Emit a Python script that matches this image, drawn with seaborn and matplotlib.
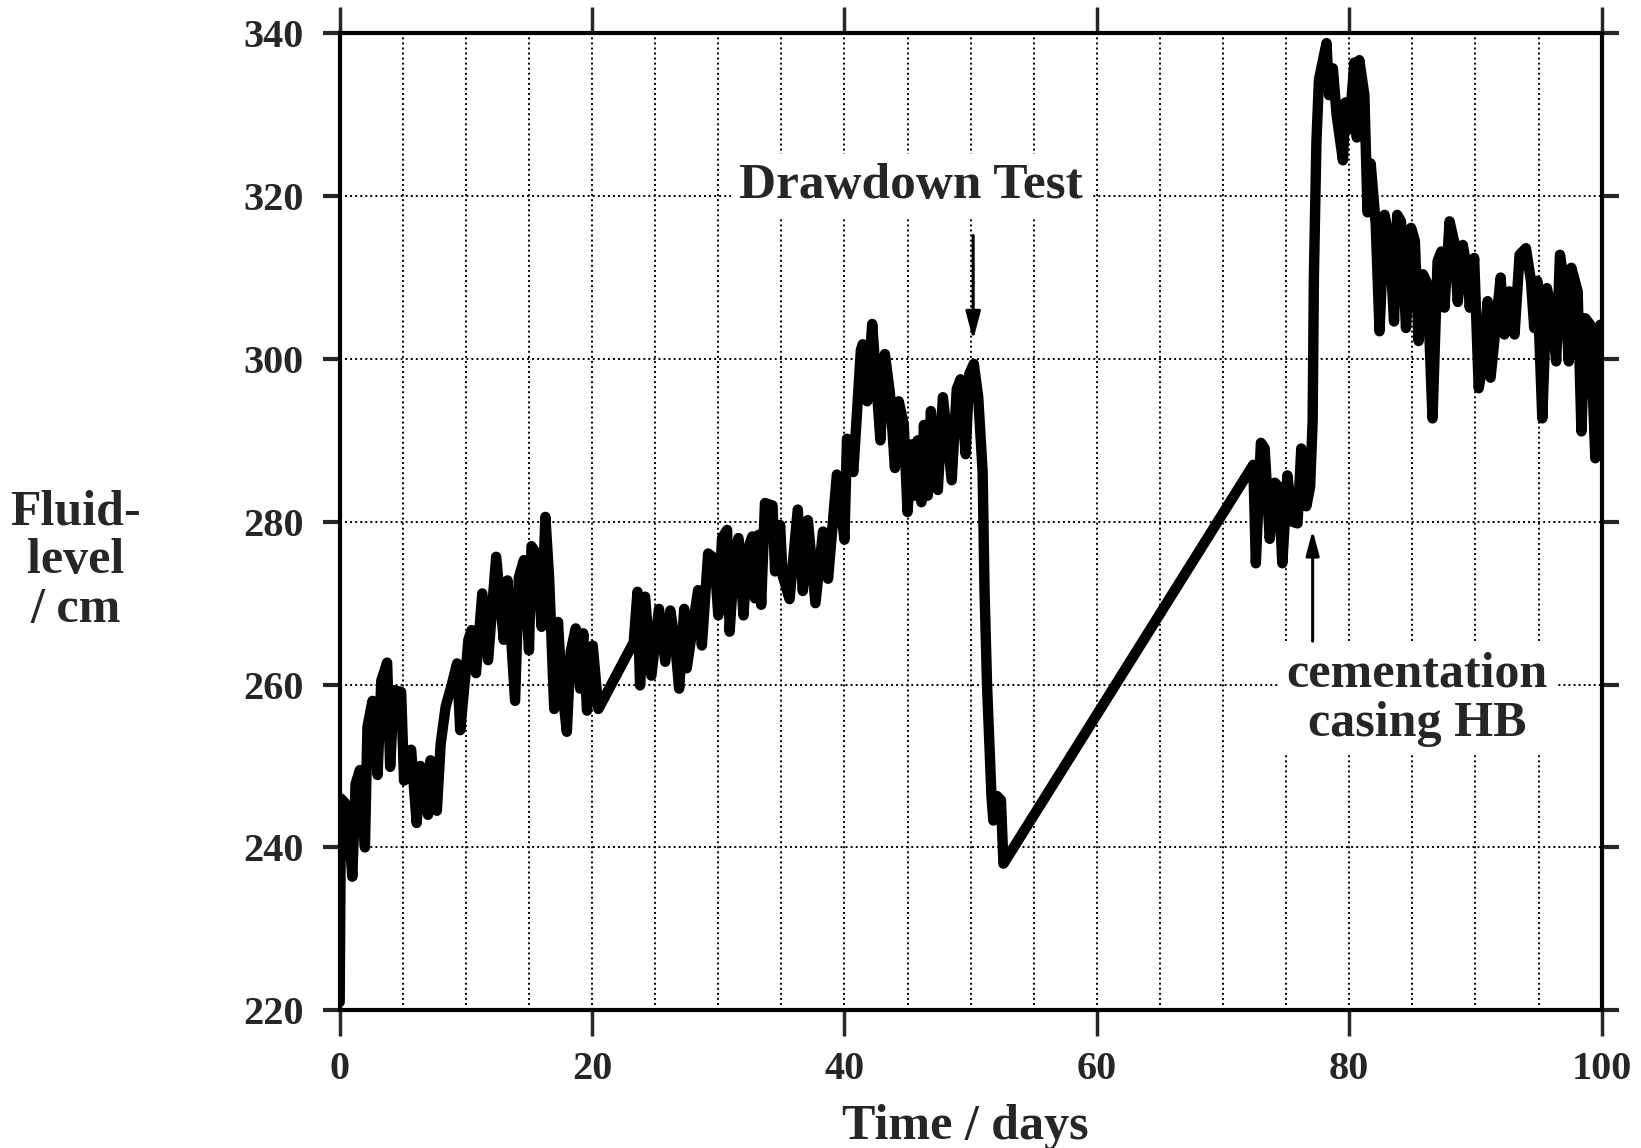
import matplotlib
matplotlib.use('Agg')
import matplotlib.pyplot as plt
import numpy as np
import pandas as pd
import seaborn as sns
from matplotlib.ticker import MultipleLocator

# data (time in days, fluid level in cm)
days = [0.0, 0.1, 0.4, 0.66, 1.0, 1.26, 1.6, 2.0, 2.2, 2.6, 3.0, 3.3, 3.76, 4.0,
        4.3, 4.87, 5.1, 5.66, 6.1, 6.4, 7.0, 7.2, 7.7, 8.0, 8.4, 8.9, 9.3, 9.55,
        10.0, 10.2, 10.45, 10.8, 11.3, 11.76, 12.4, 13.0, 13.3, 13.9, 14.2, 14.6,
        15.0, 15.2, 15.6, 16.0, 16.3, 16.6, 17.0, 17.3, 17.55, 18.0, 18.3, 18.7,
        19.05, 19.3, 19.6, 20.05, 20.5,
        23.3, 23.6, 23.8, 24.2, 24.7, 25.3, 25.8, 26.2, 26.6, 26.9, 27.3, 27.5,
        28.4, 28.7, 29.2, 29.7, 30.0, 30.3, 30.7, 30.9, 31.3, 31.6, 32.0, 32.3,
        32.7, 32.9, 33.2, 33.4, 33.7, 34.3, 34.5, 34.9, 35.1, 35.65, 36.3, 36.7,
        37.1, 37.7, 38.3, 38.7, 39.4, 40.0, 40.2, 40.7, 41.3, 41.45, 41.8, 42.2,
        42.45, 42.85, 43.2, 43.6, 44.0, 44.3, 44.7, 45.0, 45.3, 45.6, 45.8, 46.1,
        46.3, 46.6, 46.85, 47.4, 47.8, 48.2, 48.5, 48.9, 49.2, 49.6, 49.9, 50.25,
        50.6, 50.95, 51.1, 51.3, 51.65, 51.8, 52.1, 52.4, 52.6,
        72.4, 72.6, 73.0, 73.3, 73.7, 74.1, 74.4, 74.7, 75.1, 75.5, 75.9, 76.2,
        76.6, 76.9, 77.1, 77.2, 77.4, 77.6, 78.2, 78.4, 78.7, 79.0, 79.5, 79.7,
        80.0, 80.4, 80.6, 80.8, 81.2, 81.45, 81.7, 82.1, 82.4, 82.8, 83.2, 83.55,
        83.8, 84.1, 84.5, 84.9, 85.2, 85.5, 85.84, 86.2, 86.6, 87.0, 87.3, 87.55,
        87.95, 88.3, 88.6, 89.0, 89.4, 89.55, 89.9, 90.26, 90.6, 90.97, 91.2,
        91.6, 92.0, 92.3, 92.7, 93.1, 93.5, 94.0, 94.4, 94.66, 94.9, 95.3, 95.66,
        96.0, 96.4, 96.7, 97.0, 97.4, 97.6, 98.1, 98.4, 98.7, 99.1, 99.5, 99.9]

level = [221, 246, 245.5, 243.7, 236.4, 247.8, 249.5, 240, 254.8, 258, 248.9, 260.5,
         262.7, 249.9, 259.3, 259.1, 248.2, 252, 243, 250, 244, 250.7, 244.5, 252.7,
         257.3, 260.1, 262.6, 254.4, 261.8, 265.5, 266.7, 261.4, 271.2, 263, 275.7,
         265.5, 272.8, 258, 273.2, 275.3, 264.2, 277, 276, 267.1, 280.6, 273, 257,
         267.7, 260.7, 254.2, 264, 266.9, 259.5, 266.3, 256.8, 264.8, 257,
         265.2, 271.4, 259.9, 270.8, 261.1, 269.3, 262.8, 269.1, 264.8, 259.5,
         269.3, 262, 271.6, 264.8, 276.1, 275.5, 268.5, 278, 279, 266.5, 275.9,
         278, 268.5, 276.5, 278.2, 270.6, 278.4, 269.8, 282.3, 282, 273.9, 279.6,
         273.4, 270.5, 281.5, 271.5, 280.2, 270, 278.8, 273, 285.8, 277.8, 290.2,
         286.1, 301.1, 301.8, 294.8, 304.3, 298.7, 290, 300.6, 295.8, 286.6, 294.8,
         291.9, 281.2, 289.5, 283.2, 290, 282.4, 291.9, 283.2, 293.6, 283.9, 295.3,
         289.5, 285.1, 296.3, 297.5, 288.3, 298.2, 299.4, 295.3, 286.1, 271.5,
         259.9, 246.3, 243.3, 246.3, 245.8, 238,
         287, 274.9, 289.7, 289, 277.9, 284.8, 284.3, 274.9, 285.7, 280, 279.8,
         289, 281.9, 284.3, 292.3, 310.2, 326.7, 334.3, 338.8, 332.4, 335.7, 330,
         324.4, 331.5, 328.2, 336.4, 327.2, 336.7, 332.4, 318, 324, 316.5, 303.4,
         317.7, 314.5, 304.6, 317.7, 316.9, 303.8, 316.1, 314.5, 302.2, 310.4,
         309.2, 292.7, 312, 313.2, 306.3, 316.9, 314.5, 307, 314, 310.4, 306.3,
         312.4, 296.4, 299.7, 307.1, 297.7, 303.8, 310, 303, 308.3, 303, 312.8,
         313.6, 309.6, 303.8, 309.6, 292.7, 308.7, 306.3, 299.7, 312.8, 309.6,
         299.7, 311.2, 308.3, 291.1, 305, 304.2, 287.8, 304.2]

x_ticks = [0, 20, 40, 60, 80, 100]
y_ticks = [220, 240, 260, 280, 300, 320, 340]

df = pd.DataFrame({'Time': days, 'Level': level})

sns.set_style('white')
plt.rcParams['font.family'] = ['Liberation Serif', 'DejaVu Serif']
plt.rcParams['font.weight'] = 'bold'

fig = plt.figure(figsize=(16.41, 11.48), dpi=100)
ax = fig.add_axes([0.207, 0.120, 0.769, 0.851])

sns.lineplot(data=df, x='Time', y='Level', ax=ax, color='black', lw=7.5,
             estimator=None, sort=False, solid_joinstyle='round',
             solid_capstyle='round', zorder=3)

ax.set_xlim(0, 100)
ax.set_ylim(220, 340)
ax.set_xticks(x_ticks)
ax.set_yticks(y_ticks)
ax.xaxis.set_minor_locator(MultipleLocator(5))
ax.set_xticklabels([str(t) for t in x_ticks], fontsize=29, fontweight='bold')
ax.set_yticklabels([str(t) for t in y_ticks], fontsize=29, fontweight='bold')

# dotted grid
ax.grid(which='both', axis='x', color='black', linestyle=(0, (1, 1.6)), lw=1.4)
ax.grid(which='major', axis='y', color='black', linestyle=(0, (1, 1.6)), lw=1.4)
ax.set_axisbelow(True)

ax.tick_params(axis='x', which='major', direction='out', length=19, width=2.5,
               pad=10, top=True, bottom=True)
ax.tick_params(axis='x', which='minor', length=0)
ax.tick_params(axis='y', which='major', direction='out', length=12, width=3,
               pad=14, left=True, right=True)
for s in ax.spines.values():
    s.set_linewidth(3)
    s.set_color('black')

ax.set_xlabel('')
ax.set_ylabel('')
fig.text(0.588, 0.018, 'Time / days', fontsize=36, fontweight='bold',
         ha='center', va='center')
fig.text(0.046, 0.511, 'Fluid-\nlevel\n/ cm', fontsize=36, fontweight='bold',
         ha='center', va='center', linespacing=1.08)

# annotations
ax.text(45.3, 321.3, 'Drawdown Test', fontsize=37, fontweight='bold',
        ha='center', va='center', zorder=4,
        bbox=dict(facecolor='white', edgecolor='none', pad=6))
ax.annotate('', xy=(50.2, 302), xytext=(50.2, 315.5),
            arrowprops=dict(arrowstyle='-|>,head_width=0.45,head_length=1.7',
                            color='black', lw=2.2), zorder=4)

ax.text(85.4, 258.2, 'cementation\ncasing HB', fontsize=36, fontweight='bold',
        ha='center', va='center', linespacing=1.1, zorder=4,
        bbox=dict(facecolor='white', edgecolor='none', pad=6))
ax.annotate('', xy=(77.1, 279.3), xytext=(77.1, 265),
            arrowprops=dict(arrowstyle='-|>,head_width=0.4,head_length=1.5',
                            color='black', lw=2.2), zorder=4)

plt.savefig('out.png', dpi=100)
plt.close()
